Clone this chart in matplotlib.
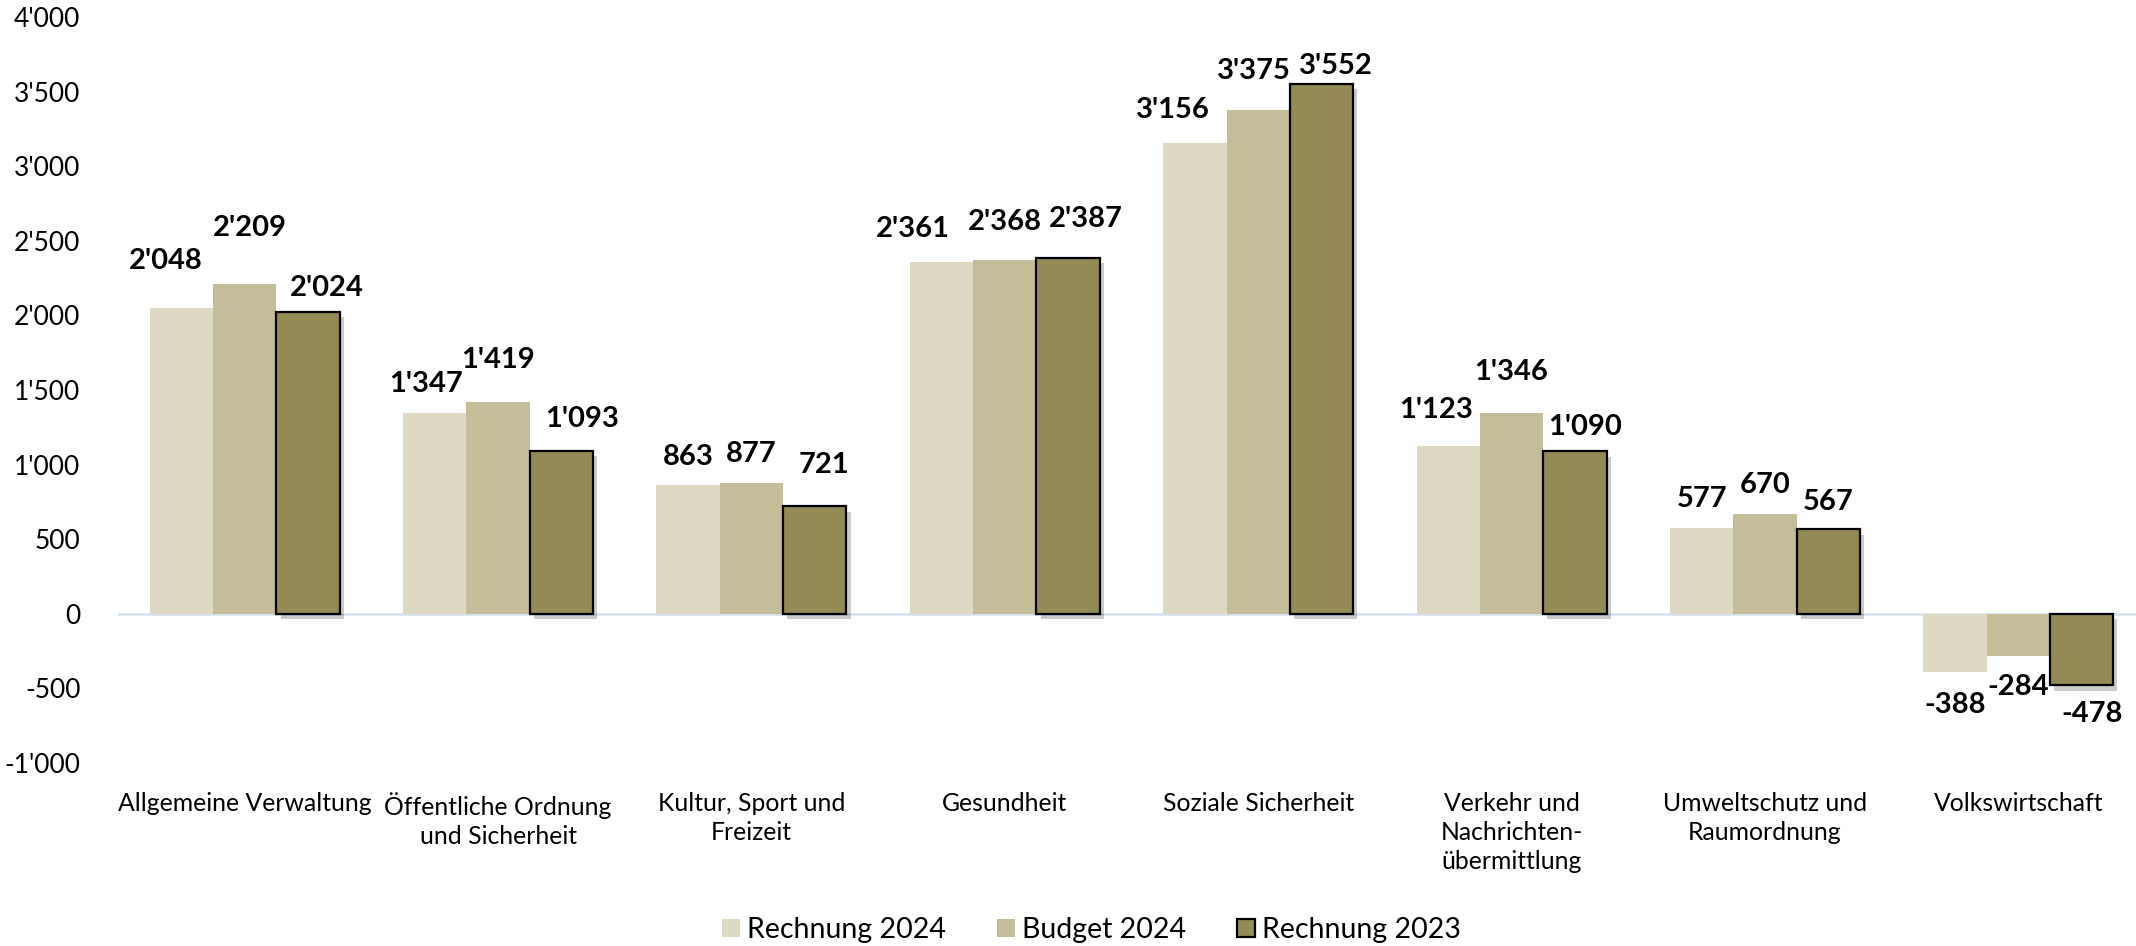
import matplotlib
matplotlib.use("Agg")
import matplotlib.pyplot as plt
import matplotlib.patheffects as pe
from matplotlib.ticker import FuncFormatter, MultipleLocator
import numpy as np

categories = [
    "Allgemeine Verwaltung",
    "Öffentliche Ordnung\nund Sicherheit",
    "Kultur, Sport und\nFreizeit",
    "Gesundheit",
    "Soziale Sicherheit",
    "Verkehr und\nNachrichten-\nübermittlung",
    "Umweltschutz und\nRaumordnung",
    "Volkswirtschaft",
]
series_names = ["Rechnung 2024", "Budget 2024", "Rechnung 2023"]
rechnung_2024 = [2048, 1347, 863, 2361, 3156, 1123, 577, -388]
budget_2024 = [2209, 1419, 877, 2368, 3375, 1346, 670, -284]
rechnung_2023 = [2024, 1093, 721, 2387, 3552, 1090, 567, -478]
series_values = [rechnung_2024, budget_2024, rechnung_2023]

# label placement styling (pixel offsets of label centre from bar end)
label_dx = [
    [-16, -9, 0, -29, -22, -12, 0, 0],
    [5, 0, 0, 0, -4, 0, 0, 0],
    [19, 21, 9, 18, 14, 10, 0, 10],
]
label_dy = [
    [47, 29, 28, 33, 33, 36, 29, 33],
    [56, 42, 29, 38, 39, 41, 29, 31],
    [24, 32, 41, 39, 18, 24, 27, 29],
]

colors = ["#DDD9C3", "#C4BD97", "#948A54"]
edges = ["none", "none", "#000000"]

plt.rcParams["font.family"] = ["Lato", "DejaVu Sans"]

W, H = 2136, 946
fig = plt.figure(figsize=(W / 100, H / 100), dpi=100)
ax = fig.add_axes([118 / W, 1 - 763 / H, 2027 / W, (763 - 17) / H])

x = np.arange(len(categories))
bw = 0.25
fmt = lambda v: f"{int(v):,}".replace(",", "'")

for i, (vals, name) in enumerate(zip(series_values, series_names)):
    pos = x + (i - 1) * bw
    bars = ax.bar(pos, vals, width=bw, color=colors[i], edgecolor=edges[i],
                  linewidth=1.6 if i == 2 else 0, label=name, zorder=3)
    if i == 2:
        for b in bars:
            b.set_path_effects([pe.SimplePatchShadow(offset=(3, -4), shadow_rgbFace="#000000", alpha=0.2),
                                pe.Normal()])
    for j, (p, v) in enumerate(zip(pos, vals)):
        dy = label_dy[i][j] if v >= 0 else -label_dy[i][j]
        ax.annotate(fmt(v), xy=(p, v), xytext=(label_dx[i][j], dy),
                    textcoords="offset pixels", ha="center", va="center",
                    fontsize=21, fontweight="bold", color="#000000", zorder=5)

ax.axhline(0, color="#D5E0EF", linewidth=1.8, zorder=2)

ax.set_xlim(-0.5, len(categories) - 0.5)
ax.set_ylim(-1000, 4000)
ax.yaxis.set_major_locator(MultipleLocator(500))
ax.yaxis.set_major_formatter(FuncFormatter(lambda v, p: fmt(v)))
ax.set_xticks(x)
ax.set_xticklabels(categories, fontsize=17.8, linespacing=1.32, color="#000000")
ax.tick_params(axis="y", length=0, pad=27, labelsize=19, labelcolor="#000000")
ax.tick_params(axis="x", length=0, pad=21)
for s in ax.spines.values():
    s.set_visible(False)

fig.legend(loc="center", bbox_to_anchor=(0.511, 0.017), ncol=3, frameon=False,
           fontsize=20.5, handlelength=0.62, handleheight=0.62, handletextpad=0.25,
           columnspacing=1.8)
leg = fig.legends[0]
for h in leg.legend_handles:
    h.set_path_effects([])

fig.savefig("out.png", dpi=100)
